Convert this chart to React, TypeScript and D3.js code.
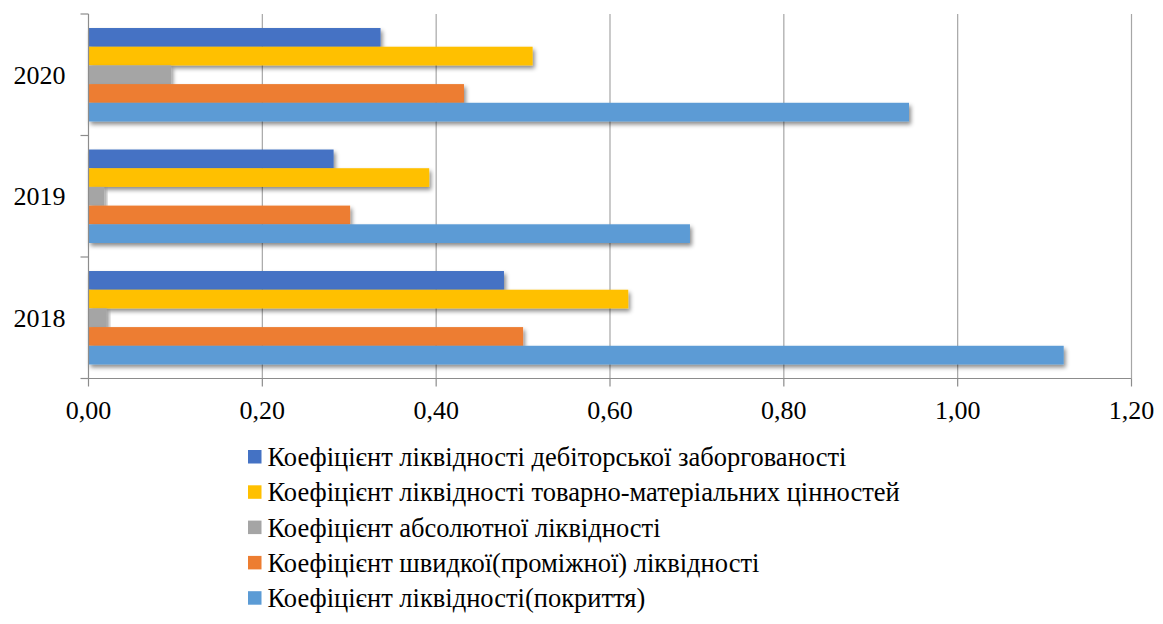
import React from "react";
import * as d3 from "d3";

const years = ["2020", "2019", "2018"];
const seriesNames = [
  "Коефіцієнт ліквідності дебіторської заборгованості",
  "Коефіцієнт ліквідності товарно-матеріальних цінностей",
  "Коефіцієнт абсолютної ліквідності",
  "Коефіцієнт швидкої(проміжної) ліквідності",
  "Коефіцієнт ліквідності(покриття)",
];
const seriesColors = ["#4472C4", "#FFC000", "#A5A5A5", "#ED7D31", "#5B9BD5"];
// values per series, in the order of years (2020, 2019, 2018)
const receivables = [0.336, 0.282, 0.478];
const inventory = [0.511, 0.392, 0.621];
const absolute = [0.095, 0.018, 0.021];
const quick = [0.432, 0.301, 0.5];
const current = [0.944, 0.692, 1.122];
const seriesValues = [receivables, inventory, absolute, quick, current];
const xTicks = [0, 0.2, 0.4, 0.6, 0.8, 1.0, 1.2];

const W = 1163;
const H = 624;
const left = 88.5;
const right = 1131.5;
const top = 14;
const bottom = 378.5;

const textStyle = { fontFamily: '"Liberation Serif", "Times New Roman", serif' };

export default function App() {
  const x = d3.scaleLinear().domain([0, 1.2]).range([left, right]);
  const yBand = d3.scaleBand().domain(years).range([top, bottom]).paddingInner(0).paddingOuter(0);
  const inner = d3
    .scaleBand()
    .domain(seriesNames)
    .range([0, yBand.bandwidth()])
    .paddingInner(0)
    .paddingOuter(0.75);
  const fmt = (v: number) => d3.format(".2f")(v).replace(".", ",");
  const axisColor = "#8c8c8c";

  return (
    <svg
      width={W}
      height={H}
      style={{ position: "absolute", left: 0, top: 0, background: "#fff" }}
    >
      <defs>
        <filter id="barShadow" x="-10%" y="-50%" width="130%" height="220%">
          <feDropShadow dx="2" dy="3" stdDeviation="2" floodColor="#000" floodOpacity="0.45" />
        </filter>
      </defs>

      {/* vertical gridlines */}
      {xTicks.slice(1).map((t) => (
        <line key={t} x1={x(t)} x2={x(t)} y1={top} y2={bottom} stroke="#a6a6a6" strokeWidth={1.2} />
      ))}

      {/* bars */}
      {years.map((yr, i) => (
        <g key={yr} transform={`translate(0,${yBand(yr)})`}>
          {seriesNames.map((s, j) => (
            <rect
              key={s}
              x={x(0)}
              y={inner(s)}
              width={x(seriesValues[j][i]) - x(0)}
              height={inner.bandwidth()}
              fill={seriesColors[j]}
              filter="url(#barShadow)"
            />
          ))}
        </g>
      ))}

      {/* axes */}
      <line x1={left} x2={left} y1={top} y2={bottom} stroke={axisColor} strokeWidth={1.2} />
      <line x1={left} x2={right} y1={bottom} y2={bottom} stroke={axisColor} strokeWidth={1.2} />
      {[...years.map((y) => yBand(y) as number), bottom].map((yy, k) => (
        <line key={k} x1={left - 8} x2={left} y1={yy} y2={yy} stroke={axisColor} strokeWidth={1.2} />
      ))}
      {xTicks.map((t) => (
        <line key={t} x1={x(t)} x2={x(t)} y1={bottom} y2={bottom + 8} stroke={axisColor} strokeWidth={1.2} />
      ))}

      {/* tick labels */}
      {xTicks.map((t) => (
        <text key={t} x={x(t)} y={419} textAnchor="middle" fontSize={26} fill="#000" style={textStyle}>
          {fmt(t)}
        </text>
      ))}
      {years.map((yr) => (
        <text
          key={yr}
          x={65.5}
          y={(yBand(yr) as number) + yBand.bandwidth() / 2 + 9}
          textAnchor="end"
          fontSize={26}
          fill="#000"
          style={textStyle}
        >
          {yr}
        </text>
      ))}

      {/* legend */}
      {seriesNames.map((s, j) => (
        <g key={s} transform={`translate(248,${466 + j * 35.3})`}>
          <rect x={0} y={-16} width={13.5} height={13.5} fill={seriesColors[j]} />
          <text x={19.5} y={0} fontSize={26.5} fill="#000" style={textStyle}>
            {s}
          </text>
        </g>
      ))}
    </svg>
  );
}
